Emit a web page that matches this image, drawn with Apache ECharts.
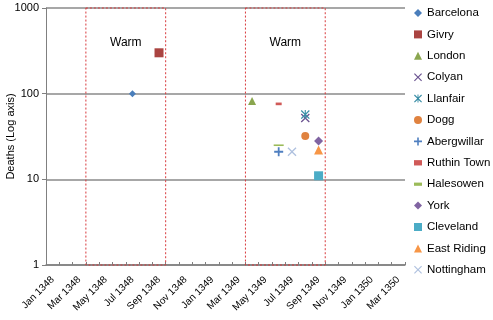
<!DOCTYPE html>
<html>
<head>
<meta charset="utf-8">
<script src="https://cdn.jsdelivr.net/npm/echarts@6/dist/echarts.min.js"></script>
<style>
html,body{margin:0;padding:0;background:#fff;}
#c{width:493px;height:320px;}
</style>
</head>
<body>
<div id="c"></div>
<script>
// ---- data ----
const months = ['Jan 1348','Feb 1348','Mar 1348','Apr 1348','May 1348','Jun 1348','Jul 1348','Aug 1348','Sep 1348','Oct 1348','Nov 1348','Dec 1348',
  'Jan 1349','Feb 1349','Mar 1349','Apr 1349','May 1349','Jun 1349','Jul 1349','Aug 1349','Sep 1349','Oct 1349','Nov 1349','Dec 1349',
  'Jan 1350','Feb 1350','Mar 1350'];
const towns = ['Barcelona','Givry','London','Colyan','Llanfair','Dogg','Abergwillar','Ruthin Town','Halesowen','York','Cleveland','East Riding','Nottingham'];
const townMonths = ['Jul 1348','Sep 1348','Apr 1349','Aug 1349','Aug 1349','Aug 1349','Jun 1349','Jun 1349','Jun 1349','Sep 1349','Sep 1349','Sep 1349','Jul 1349'];
const townDeaths = [100, 300, 82, 52, 57, 32, 21, 76, 25, 28, 11, 22, 21];
const warmFrom = ['Apr 1348','Apr 1349'];
const warmTo = ['Sep 1348','Sep 1349'];
const warmLabel = 'Warm';
const yTicks = [1, 10, 100, 1000];

// ---- styles ----
const X_PATH = 'path://M0,1L1,0L5,4L9,0L10,1L6,5L10,9L9,10L5,6L1,10L0,9L4,5Z';
const PLUS_PATH = 'path://M4,0H6V4H10V6H6V10H4V6H0V4H4Z';
const STAR_PATH = 'path://M0,1L1,0L5,4L9,0L10,1L6,5L10,9L9,10L5,6L1,10L0,9L4,5ZM4.4,0H5.6V10H4.4Z';
const DASH_PATH = 'path://M0,0H10V4H0Z';
const SHORT_DASH_PATH = 'path://M0,0H6V4H0Z';
const styles = [
  {symbol:'diamond', size:7, color:'#4A7EBB'},
  {symbol:'rect', size:9, color:'#AA4441'},
  {symbol:'triangle', size:8, color:'#8AA64F'},
  {symbol:X_PATH, size:9, color:'#6A5290'},
  {symbol:STAR_PATH, size:9, color:'#3A8EA6'},
  {symbol:'circle', size:8, color:'#E0823F'},
  {symbol:PLUS_PATH, size:9, color:'#4F7FC0'},
  {symbol:SHORT_DASH_PATH, size:[6,4], color:'#D05A58'},
  {symbol:DASH_PATH, size:[10,4], color:'#9BBB59'},
  {symbol:'diamond', size:9, color:'#8064A2'},
  {symbol:'rect', size:9, color:'#4BACC6'},
  {symbol:'triangle', size:9, color:'#F79646'},
  {symbol:X_PATH, size:9, color:'#AFC1DF'}
];

const FONT = "'Liberation Sans', Arial, sans-serif";
const series = towns.map((t, i) => ({
  name: t,
  type: 'scatter',
  xAxisIndex: 0,
  yAxisIndex: 0,
  symbol: styles[i].symbol,
  symbolSize: styles[i].size,
  symbolKeepAspect: true,
  itemStyle: {color: styles[i].color, opacity: 1},
  data: [[townMonths[i], townDeaths[i]]],
  z: 5
}));

series.push({
  name: 'warm',
  type: 'scatter',
  xAxisIndex: 1,
  yAxisIndex: 0,
  data: [],
  silent: true,
  markArea: {
    silent: true,
    itemStyle: {color: 'rgba(0,0,0,0)', borderColor: '#D8393C', borderWidth: 1, borderType: [2, 2]},
    label: {show: true, position: 'insideTop', distance: 29, color: '#000', fontSize: 12, fontFamily: FONT},
    data: warmFrom.map((f, i) => [
      {name: warmLabel, xAxis: months.indexOf(f), yAxis: yTicks[yTicks.length - 1]},
      {xAxis: months.indexOf(warmTo[i]) + 1, yAxis: yTicks[0]}
    ])
  }
});

const chart = echarts.init(document.getElementById('c'), null, {renderer: 'canvas'});
chart.setOption({
  animation: false,
  backgroundColor: '#fff',
  textStyle: {fontFamily: FONT},
  grid: {left: 46, right: 88, top: 8, bottom: 55, containLabel: false, outerBoundsMode: 'none'},
  legend: {
    data: towns,
    orient: 'vertical',
    left: 414,
    top: 6,
    padding: 0,
    itemWidth: 8,
    itemHeight: 8,
    itemGap: 7.4,
    textStyle: {fontSize: 11.5, color: '#000', fontFamily: FONT, lineHeight: 14}
  },
  xAxis: [
    {
      type: 'category',
      data: months,
      boundaryGap: true,
      axisLine: {show: true, lineStyle: {color: '#808080', width: 1.5}},
      axisTick: {show: true, inside: true, length: 3, interval: 0, lineStyle: {color: '#808080'}},
      axisLabel: {interval: 1, rotate: 45, fontSize: 10, color: '#000', margin: 13, fontFamily: FONT},
      splitLine: {show: false}
    },
    {
      type: 'value',
      min: 0,
      max: months.length,
      show: false
    }
  ],
  yAxis: {
    type: 'log',
    logBase: 10,
    min: yTicks[0],
    max: yTicks[yTicks.length - 1],
    name: 'Deaths (Log axis)',
    nameLocation: 'middle',
    nameGap: 30,
    nameMoveOverlap: false,
    nameTextStyle: {fontSize: 11, color: '#000', fontFamily: FONT},
    axisLine: {show: true, lineStyle: {color: '#808080', width: 1}},
    axisTick: {show: true, length: 4, lineStyle: {color: '#808080'}},
    axisLabel: {fontSize: 11, color: '#000', margin: 7, fontFamily: FONT, formatter: v => String(v)},
    splitLine: {show: true, lineStyle: {color: '#8A8A8A', width: 1.5}}
  },
  series: series
});
</script>
</body>
</html>
